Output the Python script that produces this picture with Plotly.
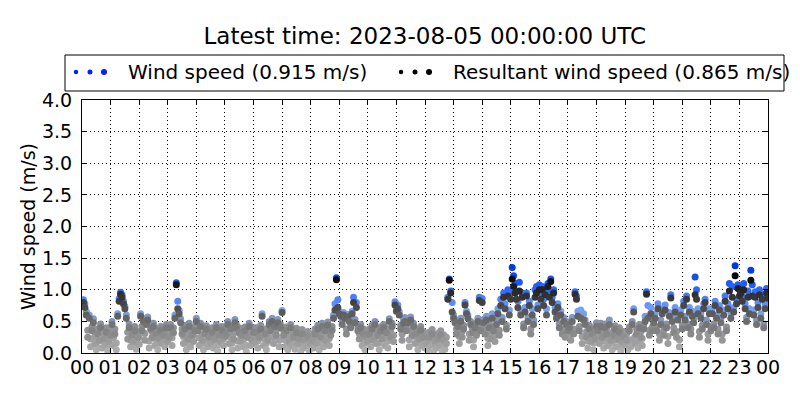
import numpy as np
import pandas as pd
import plotly.graph_objects as go

# 3-minute samples, one row per hour (values in m/s)
resultant_by_hour = [
    [0.80, 0.72, 0.60, 0.25, 0.55, 0.10, 0.35, 0.48, 0.15, 0.05, 0.30, 0.20, 0.40, 0.08, 0.22, 0.12, 0.33, 0.03, 0.18, 0.28],
    [0.45, 0.12, 0.30, 0.05, 0.58, 0.82, 0.93, 0.88, 0.78, 0.70, 0.55, 0.22, 0.40, 0.10, 0.28, 0.18, 0.35, 0.06, 0.25, 0.14],
    [0.58, 0.35, 0.50, 0.20, 0.45, 0.52, 0.08, 0.38, 0.25, 0.42, 0.12, 0.30, 0.05, 0.22, 0.36, 0.15, 0.28, 0.10, 0.40, 0.18],
    [0.25, 0.40, 0.12, 0.32, 0.55, 1.08, 0.70, 0.62, 0.48, 0.30, 0.15, 0.38, 0.05, 0.22, 0.42, 0.10, 0.28, 0.18, 0.35, 0.50],
    [0.35, 0.12, 0.42, 0.20, 0.05, 0.30, 0.38, 0.10, 0.25, 0.15, 0.33, 0.08, 0.22, 0.40, 0.03, 0.28, 0.18, 0.36, 0.12, 0.26],
    [0.30, 0.45, 0.15, 0.38, 0.05, 0.22, 0.48, 0.40, 0.08, 0.32, 0.18, 0.28, 0.10, 0.35, 0.02, 0.25, 0.42, 0.12, 0.20, 0.33],
    [0.15, 0.32, 0.08, 0.25, 0.38, 0.58, 0.12, 0.30, 0.05, 0.20, 0.45, 0.35, 0.50, 0.15, 0.42, 0.28, 0.48, 0.10, 0.40, 0.64],
    [0.28, 0.10, 0.35, 0.05, 0.18, 0.40, 0.12, 0.25, 0.06, 0.32, 0.15, 0.22, 0.03, 0.30, 0.08, 0.20, 0.12, 0.26, 0.04, 0.16],
    [0.20, 0.08, 0.30, 0.15, 0.38, 0.05, 0.25, 0.42, 0.10, 0.35, 0.18, 0.44, 0.12, 0.28, 0.36, 0.55, 0.68, 1.16, 0.72, 0.62],
    [0.58, 0.45, 0.60, 0.55, 0.30, 0.57, 0.50, 0.40, 0.62, 0.80, 0.48, 0.72, 0.35, 0.22, 0.40, 0.12, 0.30, 0.05, 0.25, 0.18],
    [0.30, 0.10, 0.38, 0.20, 0.45, 0.15, 0.28, 0.05, 0.35, 0.22, 0.40, 0.12, 0.32, 0.08, 0.50, 0.25, 0.42, 0.18, 0.76, 0.66],
    [0.70, 0.60, 0.38, 0.20, 0.47, 0.50, 0.35, 0.48, 0.10, 0.52, 0.28, 0.42, 0.15, 0.30, 0.05, 0.22, 0.36, 0.12, 0.25, 0.08],
    [0.15, 0.05, 0.25, 0.10, 0.30, 0.03, 0.18, 0.08, 0.22, 0.12, 0.28, 0.02, 0.20, 0.06, 0.15, 0.85, 1.15, 0.95, 0.65, 0.55],
    [0.48, 0.30, 0.42, 0.15, 0.50, 0.25, 0.38, 0.76, 0.62, 0.55, 0.20, 0.45, 0.32, 0.10, 0.40, 0.28, 0.50, 0.83, 0.35, 0.80],
    [0.48, 0.30, 0.52, 0.12, 0.40, 0.22, 0.55, 0.35, 0.18, 0.45, 0.62, 0.28, 0.75, 0.50, 0.88, 0.70, 0.38, 0.90, 0.60, 0.85],
    [1.17, 1.05, 0.95, 0.85, 0.72, 0.98, 0.60, 0.88, 0.40, 0.65, 0.90, 0.50, 0.75, 0.30, 0.60, 0.45, 0.88, 0.95, 0.70, 1.00],
    [0.85, 1.00, 0.75, 0.92, 0.60, 1.05, 0.88, 1.13, 0.80, 0.95, 0.65, 0.55, 0.72, 0.40, 0.60, 0.30, 0.50, 0.25, 0.45, 0.35],
    [0.40, 0.20, 0.50, 0.30, 0.93, 0.85, 0.58, 0.35, 0.55, 0.15, 0.52, 0.45, 0.25, 0.08, 0.38, 0.18, 0.30, 0.05, 0.22, 0.42],
    [0.35, 0.15, 0.42, 0.25, 0.08, 0.40, 0.30, 0.12, 0.45, 0.20, 0.05, 0.28, 0.38, 0.10, 0.22, 0.33, 0.03, 0.18, 0.26, 0.12],
    [0.20, 0.05, 0.35, 0.10, 0.45, 0.65, 0.15, 0.30, 0.08, 0.40, 0.25, 0.12, 0.38, 0.50, 0.93, 0.55, 0.28, 0.62, 0.35, 0.48],
    [0.55, 0.35, 0.70, 0.20, 0.45, 0.62, 0.28, 0.68, 0.40, 0.15, 0.58, 0.87, 0.50, 0.32, 0.65, 0.25, 0.52, 0.10, 0.60, 0.38],
    [0.75, 0.52, 0.85, 0.40, 0.65, 0.30, 0.58, 0.48, 0.92, 0.85, 0.62, 0.25, 0.55, 0.38, 0.70, 0.80, 0.45, 0.20, 0.62, 0.35],
    [0.62, 0.40, 0.75, 0.55, 0.30, 0.68, 0.48, 0.20, 0.60, 0.82, 0.35, 0.70, 0.98, 0.55, 0.88, 0.65, 1.22, 0.78, 1.02, 0.90],
    [0.95, 0.82, 1.00, 0.70, 0.50, 0.88, 0.62, 1.15, 0.90, 0.60, 0.88, 0.45, 0.72, 0.92, 0.55, 0.85, 0.40, 0.70, 0.95, 0.865],
]

wind_by_hour = [
    [0.84, 0.78, 0.66, 0.36, 0.60, 0.22, 0.42, 0.54, 0.26, 0.14, 0.38, 0.32, 0.46, 0.19, 0.30, 0.24, 0.40, 0.12, 0.27, 0.36],
    [0.50, 0.24, 0.38, 0.16, 0.62, 0.86, 0.96, 0.92, 0.82, 0.74, 0.60, 0.33, 0.46, 0.20, 0.36, 0.29, 0.42, 0.15, 0.34, 0.25],
    [0.62, 0.42, 0.55, 0.31, 0.50, 0.57, 0.19, 0.44, 0.34, 0.47, 0.23, 0.38, 0.15, 0.32, 0.42, 0.26, 0.36, 0.21, 0.45, 0.28],
    [0.34, 0.45, 0.24, 0.40, 0.60, 1.11, 0.82, 0.67, 0.54, 0.38, 0.26, 0.44, 0.16, 0.31, 0.47, 0.21, 0.36, 0.28, 0.41, 0.55],
    [0.41, 0.24, 0.47, 0.30, 0.16, 0.38, 0.43, 0.21, 0.34, 0.26, 0.40, 0.19, 0.31, 0.45, 0.13, 0.36, 0.28, 0.42, 0.22, 0.34],
    [0.38, 0.50, 0.26, 0.43, 0.16, 0.31, 0.53, 0.45, 0.19, 0.40, 0.28, 0.36, 0.21, 0.41, 0.12, 0.33, 0.47, 0.23, 0.29, 0.40],
    [0.26, 0.40, 0.19, 0.34, 0.44, 0.62, 0.23, 0.38, 0.15, 0.30, 0.50, 0.41, 0.55, 0.25, 0.47, 0.36, 0.53, 0.20, 0.45, 0.67],
    [0.36, 0.21, 0.41, 0.15, 0.28, 0.45, 0.23, 0.33, 0.17, 0.39, 0.25, 0.31, 0.13, 0.37, 0.19, 0.29, 0.22, 0.34, 0.14, 0.26],
    [0.30, 0.19, 0.38, 0.26, 0.44, 0.16, 0.34, 0.47, 0.21, 0.41, 0.28, 0.49, 0.23, 0.36, 0.42, 0.60, 0.78, 1.19, 0.84, 0.66],
    [0.63, 0.50, 0.64, 0.60, 0.38, 0.61, 0.55, 0.46, 0.66, 0.88, 0.53, 0.80, 0.41, 0.31, 0.45, 0.23, 0.38, 0.16, 0.34, 0.28],
    [0.38, 0.21, 0.44, 0.30, 0.50, 0.26, 0.36, 0.16, 0.41, 0.31, 0.45, 0.23, 0.39, 0.19, 0.54, 0.34, 0.47, 0.28, 0.81, 0.72],
    [0.76, 0.65, 0.44, 0.30, 0.53, 0.56, 0.41, 0.54, 0.21, 0.57, 0.36, 0.47, 0.26, 0.38, 0.16, 0.31, 0.42, 0.23, 0.34, 0.19],
    [0.25, 0.15, 0.33, 0.20, 0.37, 0.12, 0.27, 0.18, 0.31, 0.22, 0.35, 0.11, 0.29, 0.16, 0.25, 0.88, 1.17, 0.98, 0.80, 0.60],
    [0.53, 0.38, 0.48, 0.26, 0.55, 0.34, 0.44, 0.80, 0.66, 0.60, 0.30, 0.50, 0.40, 0.21, 0.46, 0.36, 0.55, 0.88, 0.42, 0.86],
    [0.53, 0.38, 0.58, 0.23, 0.48, 0.31, 0.62, 0.42, 0.28, 0.52, 0.70, 0.36, 0.85, 0.56, 0.95, 0.78, 0.44, 1.00, 0.68, 0.95],
    [1.35, 1.22, 1.10, 0.98, 0.82, 1.12, 0.66, 0.95, 0.46, 0.72, 0.95, 0.56, 0.82, 0.38, 0.70, 0.52, 1.00, 1.05, 0.76, 1.08],
    [0.95, 1.05, 0.85, 1.02, 0.70, 1.10, 0.98, 1.17, 0.88, 1.00, 0.72, 0.62, 0.78, 0.46, 0.66, 0.38, 0.56, 0.34, 0.50, 0.42],
    [0.45, 0.30, 0.56, 0.38, 0.97, 0.90, 0.66, 0.42, 0.68, 0.26, 0.62, 0.52, 0.34, 0.19, 0.44, 0.28, 0.38, 0.16, 0.31, 0.48],
    [0.41, 0.26, 0.47, 0.34, 0.19, 0.46, 0.38, 0.23, 0.52, 0.30, 0.16, 0.36, 0.43, 0.21, 0.31, 0.40, 0.13, 0.28, 0.34, 0.23],
    [0.30, 0.16, 0.41, 0.21, 0.50, 0.70, 0.26, 0.38, 0.19, 0.45, 0.34, 0.23, 0.44, 0.58, 0.97, 0.75, 0.36, 0.72, 0.41, 0.55],
    [0.62, 0.41, 0.78, 0.30, 0.52, 0.70, 0.36, 0.76, 0.46, 0.26, 0.64, 0.92, 0.56, 0.40, 0.72, 0.34, 0.58, 0.21, 0.68, 0.44],
    [0.82, 0.58, 0.90, 0.46, 0.72, 0.38, 0.66, 0.55, 1.20, 1.00, 0.70, 0.34, 0.62, 0.44, 0.78, 0.85, 0.52, 0.30, 0.70, 0.41],
    [0.70, 0.46, 0.82, 0.60, 0.38, 0.75, 0.55, 0.30, 0.68, 0.90, 0.41, 0.78, 1.10, 0.62, 1.05, 0.72, 1.38, 0.85, 1.08, 1.00],
    [1.05, 0.90, 1.10, 0.78, 0.56, 0.98, 0.70, 1.31, 1.08, 0.68, 0.97, 0.52, 0.80, 1.00, 0.62, 0.93, 0.46, 0.78, 1.02, 0.915],
]

resultant = [v for row in resultant_by_hour for v in row]
wind = [v for row in wind_by_hour for v in row]
times = pd.date_range("2023-08-04 00:03", "2023-08-05 00:00", freq="3min")

title_text = "Latest time: 2023-08-05 00:00:00 UTC"
wind_label = "Wind speed (%.3f m/s)" % wind[-1]
res_label = "Resultant wind speed (%.3f m/s)" % resultant[-1]
hour_labels = ["%02d" % (h % 24) for h in range(25)]
tick_times = pd.date_range("2023-08-04 00:00", "2023-08-05 00:00", freq="1h")

FONT = "DejaVu Sans"

fig = go.Figure()
fig.add_trace(go.Scatter(
    x=times, y=wind, mode="markers", name=wind_label, showlegend=False,
    marker=dict(size=7, color=wind, cmin=0, cmax=1.4,
                colorscale=[[0, "#b4b4b4"], [0.3, "#8c8e94"], [0.48, "#79a2f4"],
                            [0.72, "#2a66ff"], [1, "#0033dd"]],
                line=dict(width=0)),
))
fig.add_trace(go.Scatter(
    x=times, y=resultant, mode="markers", name=res_label, showlegend=False,
    marker=dict(size=7, color=resultant, cmin=0, cmax=1.25,
                colorscale=[[0, "#b4b4b4"], [1, "#000000"]],
                line=dict(width=0)),
))

# manual legend (box, dots, labels) in paper coordinates
PW, PH = 686.0, 253.0  # plot area size in px


def px_x(px):
    return (px - 82) / PW


def px_y(py):
    return (353 - py) / PH


shapes = [dict(type="rect", xref="paper", yref="paper",
               x0=px_x(65), x1=px_x(784), y0=px_y(91), y1=px_y(55),
               line=dict(color="black", width=1), fillcolor="white", layer="above")]
ly = px_y(72)
dot_sizes = [4.5, 5, 6]
for start_px, col in [(76, "#0022ff"), (401, "black")]:
    for k, d in enumerate(dot_sizes):
        shapes.append(dict(type="circle", xref="paper", yref="paper",
                           xsizemode="pixel", ysizemode="pixel",
                           xanchor=px_x(start_px + 14 * k), yanchor=ly,
                           x0=-d / 2, x1=d / 2, y0=-d / 2, y1=d / 2,
                           fillcolor=col, line=dict(width=0), layer="above"))

annotations = [
    dict(text=wind_label, xref="paper", yref="paper", x=px_x(126), y=ly,
         xanchor="left", yanchor="middle", showarrow=False,
         font=dict(family=FONT, size=20, color="black")),
    dict(text=res_label, xref="paper", yref="paper", x=px_x(451), y=ly,
         xanchor="left", yanchor="middle", showarrow=False,
         font=dict(family=FONT, size=20, color="black")),
]

# page body has an 8px offset, so margins are shifted accordingly
fig.update_layout(
    width=800, height=400,
    margin=dict(l=74, r=40, t=92, b=55),
    paper_bgcolor="white", plot_bgcolor="white",
    title=dict(text=title_text, x=0.521, xanchor="center", y=0.93, yanchor="middle",
               font=dict(family=FONT, size=23, color="black")),
    font=dict(family=FONT, color="black"),
    shapes=shapes, annotations=annotations,
    showlegend=False,
)
fig.update_xaxes(
    type="date", range=[tick_times[0], tick_times[-1]],
    tickvals=tick_times, ticktext=hour_labels, automargin=False,
    ticklabelstandoff=-3,
    showline=True, linecolor="black", linewidth=1, mirror="allticks",
    ticks="inside", ticklen=5, tickcolor="black",
    showgrid=True, gridcolor="black", gridwidth=1, griddash="1px,3px",
    tickfont=dict(family=FONT, size=19, color="black"), zeroline=False,
)
fig.update_yaxes(
    range=[0, 4], tickvals=[0, 0.5, 1, 1.5, 2, 2.5, 3, 3.5, 4], tickformat=".1f",
    automargin=False, ticklabelstandoff=5,
    showline=True, linecolor="black", linewidth=1, mirror="allticks",
    ticks="inside", ticklen=5, tickcolor="black",
    showgrid=True, gridcolor="black", gridwidth=1, griddash="1px,3px",
    tickfont=dict(family=FONT, size=19, color="black"), zeroline=False,
    title=dict(text="Wind speed (m/s)", font=dict(family=FONT, size=19, color="black"), standoff=1),
)

fig.write_html("out.html")
